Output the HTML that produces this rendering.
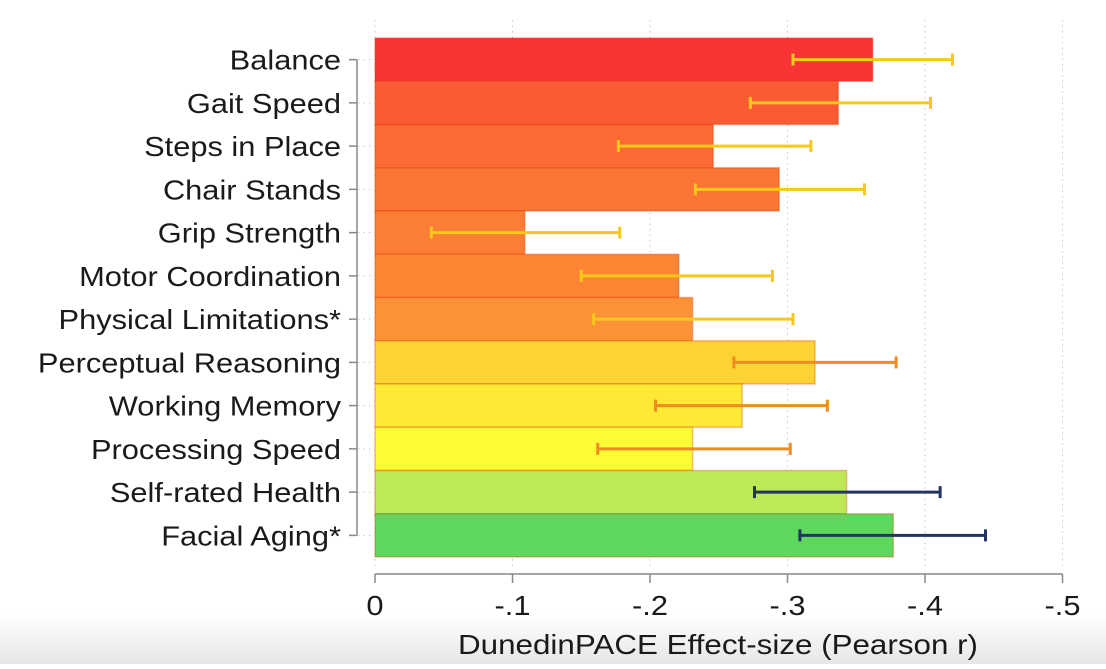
<!DOCTYPE html>
<html><head><meta charset="utf-8"><style>
body{margin:0;width:1106px;height:664px;overflow:hidden;background:#fff;font-family:"Liberation Sans",sans-serif}
svg text{font-family:"Liberation Sans",sans-serif;fill:#1a1a1a}
</style></head><body>
<svg id="chart" width="1106" height="664" viewBox="0 0 1106 664">
<defs><linearGradient id="bg" x1="0" y1="0" x2="0" y2="1"><stop offset="0" stop-color="#fff"/><stop offset="1" stop-color="#e6e6e6"/></linearGradient></defs>
<rect x="0" y="615" width="1106" height="49" fill="url(#bg)"/>
<g id="grid"></g><g id="bars"></g><g id="errs"></g><g id="axes"></g>
</svg>
<script>
const categories=["Balance","Gait Speed","Steps in Place","Chair Stands","Grip Strength","Motor Coordination","Physical Limitations*","Perceptual Reasoning","Working Memory","Processing Speed","Self-rated Health","Facial Aging*"];
const values=[-0.362,-0.337,-0.246,-0.294,-0.109,-0.221,-0.231,-0.320,-0.267,-0.231,-0.343,-0.377];
const ciLow=[-0.304,-0.273,-0.177,-0.233,-0.041,-0.150,-0.159,-0.261,-0.204,-0.162,-0.276,-0.309];
const ciHigh=[-0.420,-0.404,-0.317,-0.356,-0.178,-0.289,-0.304,-0.379,-0.329,-0.302,-0.411,-0.444];
const barColors=["#f83434","#f95c34","#fa6a32","#fb7634","#fb7e34","#fc8634","#fc9236","#fdd334","#feea34","#fcfc34","#bde858","#5dd85c"];
const ciColors=["#f6c81a","#f6c81a","#f6c81a","#f6c81a","#f6c81a","#f6c81a","#f6c81a","#f08a22","#f08a22","#f08a22","#243462","#243462"];
const ticks=[0,-0.1,-0.2,-0.3,-0.4,-0.5];
const tickLabels=["0","-.1","-.2","-.3","-.4","-.5"];
const NS="http://www.w3.org/2000/svg";
const X=v=>375+(-v)*1375;
const top0=38,rowH=(557-38)/categories.length;
const Y=i=>top0+rowH*i;
function mk(tag,attrs,parent){const e=document.createElementNS(NS,tag);for(const k in attrs)e.setAttribute(k,attrs[k]);document.getElementById(parent).appendChild(e);return e;}
function stretch(t,f){const w=t.getComputedTextLength();t.setAttribute("textLength",w*f);t.setAttribute("lengthAdjust","spacingAndGlyphs");}
ticks.forEach((t,i)=>{
 const g=mk("line",{x1:X(t),x2:X(t),y1:20,y2:570,stroke:"#c8c8c8","stroke-dasharray":"1.5,4"},"grid");
 
 
 const tk=mk("line",{x1:X(t),x2:X(t),y1:574,y2:583,stroke:"#888","stroke-width":1.5},"axes");
 
 
 const tl=mk("text",{x:X(t),y:615,"text-anchor":"middle","font-size":28},"axes");
 tl.textContent=tickLabels[i];
 
 
 stretch(tl,1.1);
});
const ax=mk("line",{x1:X(0),x2:X(-0.5),y1:574,y2:574,stroke:"#888","stroke-width":1.5},"axes");


const yl=mk("line",{x1:357,x2:357,y1:Y(0)+rowH/2,y2:Y(11)+rowH/2,stroke:"#888","stroke-width":1.5},"axes");


const tt=mk("text",{x:718,y:654,"text-anchor":"middle","font-size":28},"axes");
tt.textContent="DunedinPACE Effect-size (Pearson r)";


stretch(tt,1.12);
categories.forEach((c,i)=>{
 const cy=Y(i)+rowH/2;
 const b=mk("rect",{x:X(0),y:Y(i),width:X(values[i])-X(0),height:rowH,fill:barColors[i],stroke:"rgba(230,40,0,0.3)","stroke-width":1.5},"bars");
 
 
 const g=mk("line",{x1:358,x2:X(0),y1:cy,y2:cy,stroke:"#c8c8c8","stroke-dasharray":"1.5,4"},"grid");
 
 
 const tk=mk("line",{x1:349,x2:357,y1:cy,y2:cy,stroke:"#888","stroke-width":1.5},"axes");
 
 
 const l=mk("text",{x:341,y:cy+10,"text-anchor":"end","font-size":28},"axes");
 l.textContent=c;
 
 
 stretch(l,1.1);
 const e=mk("path",{d:`M${X(ciLow[i])},${cy}H${X(ciHigh[i])}M${X(ciLow[i])},${cy-6}V${cy+6}M${X(ciHigh[i])},${cy-6}V${cy+6}`,stroke:ciColors[i],"stroke-width":3,fill:"none"},"errs");
 
 
});
</script>
</body></html>
